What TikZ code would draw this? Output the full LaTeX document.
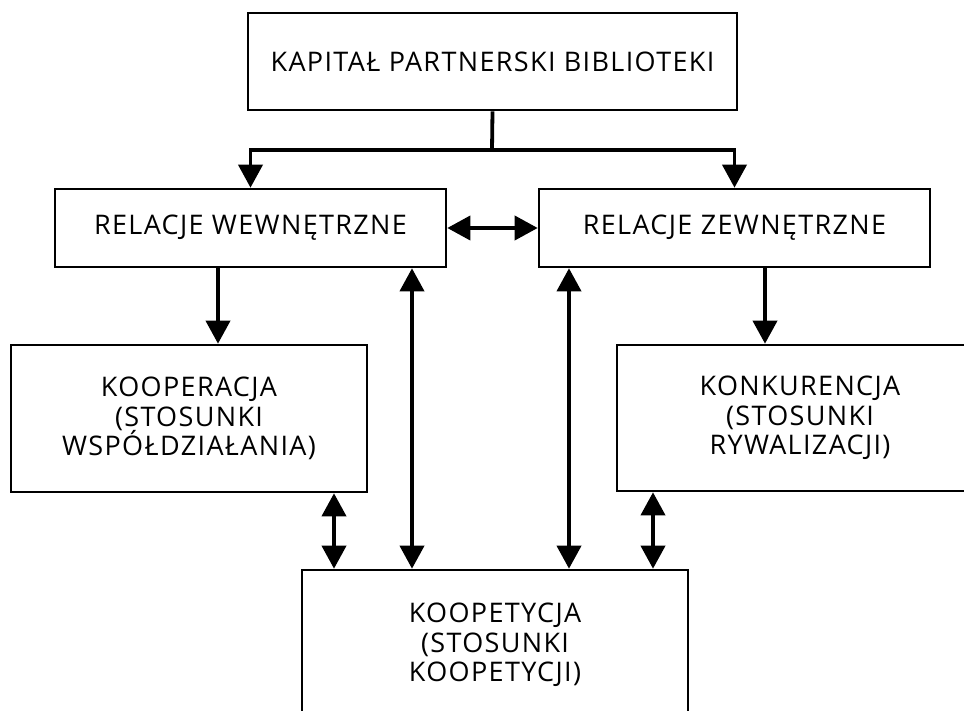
\documentclass[tikz,border=0pt]{standalone}
\usepackage{fontspec}
\setmainfont[LetterSpace=5]{Open Sans}
\usetikzlibrary{arrows.meta}
\begin{document}
\begin{tikzpicture}[x=1pt,y=-1pt,
  box/.style={draw, line width=2.6pt, rectangle, inner sep=0pt, align=center,
    font=\fontsize{27}{29.5}\selectfont},
  conn/.style={line width=3.8pt},
  arr/.style={line width=3.8pt, -{Triangle[length=23pt,width=24pt]}},
  darr/.style={line width=3.8pt, {Triangle[length=23pt,width=24pt]}-{Triangle[length=23pt,width=24pt]}}]
\useasboundingbox (0,0) rectangle (964,711);
\fill[white] (0,0) rectangle (964,711);
\node[box, minimum width=489pt, minimum height=97pt] (top) at (492.5,61.5) {KAPITAŁ PARTNERSKI BIBLIOTEKI};
\node[box, minimum width=391pt, minimum height=78pt] (rw) at (250.5,228) {RELACJE WEWNĘTRZNE};
\node[box, minimum width=391pt, minimum height=78pt] (rz) at (734.5,228) {RELACJE ZEWNĘTRZNE};
\node[box, minimum width=356pt, minimum height=147pt] (coop) at (189,418.5) {KOOPERACJA\\(STOSUNKI\\WSPÓŁDZIAŁANIA)};
\node[box, minimum width=366pt, minimum height=146pt] (konk) at (800,418) {KONKURENCJA\\(STOSUNKI\\RYWALIZACJI)};
\node[box, minimum width=386pt, minimum height=150pt] (koop) at (495,645) {KOOPETYCJA\\(STOSUNKI\\KOOPETYCJI)};
\coordinate (j) at (492,150);
\coordinate (xa) at (218,0);
\coordinate (xb) at (765,0);
\coordinate (xc) at (334,0);
\coordinate (xd) at (412,0);
\coordinate (xe) at (569,0);
\coordinate (xf) at (653,0);
\draw[conn] (top.south) -- (j);
\draw[arr] (j) -| (rw.north);
\draw[arr] (j) -| (rz.north);
\draw[darr] (rw.east) -- (rz.west);
\draw[arr] (rw.south -| xa) -- (coop.north -| xa);
\draw[arr] (rz.south -| xb) -- (konk.north -| xb);
\draw[darr] (coop.south -| xc) -- (koop.north -| xc);
\draw[darr] (rw.south -| xd) -- (koop.north -| xd);
\draw[darr] (rz.south -| xe) -- (koop.north -| xe);
\draw[darr] (konk.south -| xf) -- (koop.north -| xf);
\end{tikzpicture}
\end{document}
